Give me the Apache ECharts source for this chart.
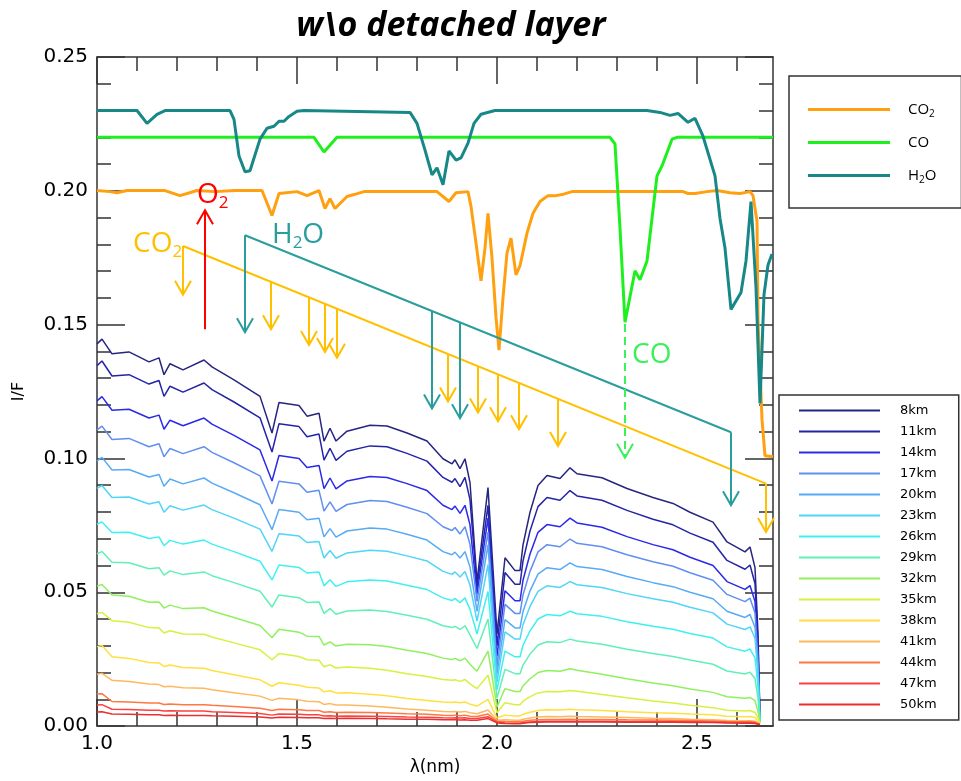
<!DOCTYPE html>
<html><head><meta charset="utf-8">
<script src="https://cdn.jsdelivr.net/npm/echarts@6/dist/echarts.min.js"></script>
<style>html,body{margin:0;padding:0;background:#fff}#c{width:961px;height:781px}</style>
</head><body><div id="c"></div><script>
// ---------- data ----------
const wavelength = [1.000,1.0125,1.0375,1.08,1.13,1.155,1.1675,1.1825,1.215,1.2675,1.2875,1.3425,1.4075,1.4375,1.455,1.505,1.525,1.555,1.5675,1.5825,1.5975,1.625,1.6825,1.725,1.775,1.825,1.865,1.8875,1.895,1.9075,1.92,1.9325,1.95,1.9775,2.0,2.02,2.045,2.0575,2.065,2.0825,2.1025,2.125,2.1575,2.1825,2.20,2.2625,2.325,2.39,2.44,2.4825,2.54,2.575,2.62,2.6325,2.645,2.6525,2.6575];
const kmNames = ['8km','11km','14km','17km','20km','23km','26km','29km','32km','35km','38km','41km','44km','47km','50km'];
const kmColors = ['#262680','#2424a8','#2a2ae8','#5f8ff0','#58aaf5','#50d4f8','#40f0f0','#60f0b8','#90f060','#d8f040','#ffe040','#ffb860','#ff7840','#ff4040','#e83030'];
const km8  = [0.1428,0.1446,0.1391,0.1398,0.1361,0.1376,0.1313,0.1354,0.1331,0.1368,0.1342,0.1294,0.1232,0.1095,0.1209,0.1198,0.1158,0.1169,0.1065,0.1113,0.1065,0.1102,0.1124,0.1121,0.1095,0.1065,0.0999,0.0980,0.0995,0.0962,0.0999,0.0910,0.0540,0.0891,0.0344,0.0629,0.0581,0.0581,0.0677,0.0799,0.0899,0.0936,0.0925,0.0965,0.0943,0.0928,0.0888,0.0854,0.0832,0.0799,0.0762,0.0688,0.0651,0.0669,0.0592,0.0344,0.0022];
const km11 = [0.1347,0.1364,0.1308,0.1313,0.1278,0.1291,0.1232,0.1270,0.1248,0.1282,0.1257,0.1211,0.1152,0.1024,0.1130,0.1119,0.1081,0.1091,0.0994,0.1038,0.0993,0.1027,0.1047,0.1044,0.1019,0.0990,0.0929,0.0911,0.0925,0.0895,0.0929,0.0846,0.0518,0.0825,0.0300,0.0574,0.0530,0.0530,0.0617,0.0729,0.0820,0.0854,0.0844,0.0880,0.0860,0.0844,0.0806,0.0773,0.0752,0.0721,0.0687,0.0619,0.0586,0.0602,0.0533,0.0310,0.0020];
const km14 = [0.1215,0.1231,0.1180,0.1184,0.1151,0.1162,0.1109,0.1143,0.1122,0.1151,0.1128,0.1086,0.1032,0.0916,0.1011,0.1000,0.0966,0.0974,0.0887,0.0927,0.0886,0.0916,0.0933,0.0929,0.0906,0.0880,0.0825,0.0809,0.0822,0.0795,0.0825,0.0752,0.0492,0.0777,0.0260,0.0506,0.0468,0.0468,0.0545,0.0643,0.0724,0.0753,0.0745,0.0777,0.0759,0.0743,0.0708,0.0678,0.0659,0.0631,0.0600,0.0540,0.0511,0.0525,0.0465,0.0270,0.0019];
const km17 = [0.1107,0.1121,0.1071,0.1075,0.1044,0.1055,0.1006,0.1037,0.1018,0.1044,0.1023,0.0984,0.0935,0.0830,0.0915,0.0905,0.0874,0.0881,0.0803,0.0838,0.0802,0.0828,0.0843,0.0839,0.0818,0.0794,0.0745,0.0731,0.0742,0.0718,0.0745,0.0679,0.0466,0.0725,0.0225,0.0455,0.0421,0.0421,0.0490,0.0578,0.0651,0.0678,0.0670,0.0699,0.0683,0.0670,0.0640,0.0614,0.0597,0.0573,0.0545,0.0492,0.0465,0.0478,0.0423,0.0246,0.0018];
const km20 = [0.0991,0.1004,0.0957,0.0959,0.0931,0.0940,0.0896,0.0923,0.0905,0.0927,0.0908,0.0872,0.0827,0.0734,0.0809,0.0799,0.0771,0.0777,0.0707,0.0738,0.0706,0.0729,0.0740,0.0736,0.0717,0.0695,0.0652,0.0640,0.0650,0.0628,0.0652,0.0594,0.0429,0.0677,0.0195,0.0398,0.0367,0.0367,0.0428,0.0505,0.0568,0.0592,0.0585,0.0610,0.0596,0.0585,0.0559,0.0536,0.0521,0.0500,0.0476,0.0429,0.0406,0.0417,0.0369,0.0215,0.0017];
const km23 = [0.0888,0.0899,0.0854,0.0856,0.0830,0.0838,0.0799,0.0823,0.0807,0.0826,0.0809,0.0777,0.0736,0.0653,0.0719,0.0710,0.0686,0.0690,0.0628,0.0656,0.0627,0.0647,0.0657,0.0653,0.0636,0.0617,0.0578,0.0567,0.0576,0.0557,0.0578,0.0527,0.0392,0.0603,0.0165,0.0352,0.0325,0.0325,0.0379,0.0447,0.0503,0.0524,0.0518,0.0540,0.0528,0.0518,0.0495,0.0476,0.0463,0.0444,0.0423,0.0381,0.0361,0.0371,0.0328,0.0191,0.0016];
const km26 = [0.0754,0.0763,0.0723,0.0724,0.0701,0.0707,0.0674,0.0694,0.0680,0.0695,0.0680,0.0652,0.0616,0.0546,0.0602,0.0593,0.0572,0.0576,0.0524,0.0547,0.0522,0.0539,0.0546,0.0542,0.0526,0.0510,0.0479,0.0469,0.0477,0.0461,0.0479,0.0436,0.0344,0.0503,0.0135,0.0280,0.0259,0.0259,0.0301,0.0356,0.0400,0.0417,0.0412,0.0429,0.0420,0.0410,0.0390,0.0373,0.0362,0.0346,0.0329,0.0296,0.0280,0.0288,0.0255,0.0148,0.0015];
const km29 = [0.0644,0.0652,0.0612,0.0610,0.0588,0.0592,0.0564,0.0580,0.0566,0.0576,0.0562,0.0536,0.0504,0.0445,0.0490,0.0480,0.0462,0.0464,0.0421,0.0439,0.0418,0.0430,0.0434,0.0428,0.0414,0.0399,0.0375,0.0368,0.0373,0.0361,0.0375,0.0341,0.0290,0.0400,0.0105,0.0212,0.0196,0.0196,0.0228,0.0269,0.0303,0.0315,0.0312,0.0325,0.0318,0.0306,0.0287,0.0271,0.0260,0.0247,0.0231,0.0206,0.0195,0.0201,0.0178,0.0103,0.0013];
const km32 = [0.0523,0.0529,0.0490,0.0485,0.0463,0.0464,0.0441,0.0452,0.0439,0.0442,0.0430,0.0406,0.0376,0.0330,0.0362,0.0351,0.0336,0.0335,0.0303,0.0315,0.0299,0.0306,0.0304,0.0297,0.0283,0.0271,0.0254,0.0249,0.0253,0.0244,0.0254,0.0231,0.0205,0.0280,0.0072,0.0140,0.0129,0.0129,0.0150,0.0177,0.0200,0.0208,0.0205,0.0214,0.0209,0.0194,0.0177,0.0161,0.0151,0.0139,0.0126,0.0110,0.0104,0.0107,0.0095,0.0055,0.0012];
const km35 = [0.0420,0.0425,0.0394,0.0388,0.0368,0.0367,0.0348,0.0356,0.0344,0.0343,0.0333,0.0311,0.0285,0.0248,0.0271,0.0260,0.0248,0.0246,0.0222,0.0229,0.0217,0.0221,0.0216,0.0209,0.0196,0.0185,0.0174,0.0171,0.0173,0.0167,0.0174,0.0158,0.0140,0.0190,0.0050,0.0087,0.0080,0.0080,0.0093,0.0110,0.0124,0.0129,0.0128,0.0133,0.0130,0.0118,0.0106,0.0094,0.0086,0.0078,0.0069,0.0059,0.0056,0.0058,0.0051,0.0030,0.0011];
const km38 = [0.0297,0.0301,0.0259,0.0253,0.0238,0.0236,0.0223,0.0228,0.0219,0.0216,0.0208,0.0192,0.0173,0.0149,0.0162,0.0153,0.0145,0.0142,0.0128,0.0132,0.0124,0.0125,0.0119,0.0113,0.0103,0.0096,0.0090,0.0088,0.0090,0.0087,0.0090,0.0082,0.0075,0.0100,0.0030,0.0041,0.0038,0.0038,0.0044,0.0052,0.0058,0.0061,0.0060,0.0063,0.0061,0.0058,0.0054,0.0050,0.0048,0.0045,0.0042,0.0037,0.0035,0.0036,0.0032,0.0019,0.0010];
const km41 = [0.0194,0.0197,0.0171,0.0167,0.0157,0.0155,0.0147,0.0149,0.0143,0.0141,0.0136,0.0125,0.0112,0.0096,0.0104,0.0098,0.0093,0.0091,0.0081,0.0084,0.0079,0.0079,0.0075,0.0070,0.0064,0.0059,0.0055,0.0054,0.0055,0.0053,0.0055,0.0050,0.0046,0.0060,0.0022,0.0024,0.0022,0.0022,0.0026,0.0030,0.0034,0.0036,0.0035,0.0037,0.0036,0.0034,0.0032,0.0029,0.0028,0.0026,0.0024,0.0021,0.0020,0.0020,0.0018,0.0012,0.0009];
const km44 = [0.0120,0.0121,0.0092,0.0090,0.0086,0.0086,0.0081,0.0083,0.0080,0.0080,0.0078,0.0073,0.0067,0.0058,0.0063,0.0061,0.0058,0.0058,0.0052,0.0054,0.0051,0.0052,0.0051,0.0049,0.0046,0.0044,0.0041,0.0040,0.0041,0.0039,0.0041,0.0037,0.0036,0.0045,0.0018,0.0017,0.0016,0.0016,0.0018,0.0022,0.0024,0.0025,0.0025,0.0026,0.0025,0.0025,0.0024,0.0023,0.0022,0.0021,0.0019,0.0017,0.0016,0.0017,0.0015,0.0010,0.0008];
const km47 = [0.0079,0.0080,0.0063,0.0062,0.0059,0.0059,0.0056,0.0057,0.0056,0.0056,0.0054,0.0051,0.0047,0.0041,0.0045,0.0044,0.0042,0.0042,0.0038,0.0039,0.0037,0.0038,0.0037,0.0036,0.0034,0.0033,0.0031,0.0030,0.0031,0.0030,0.0031,0.0028,0.0028,0.0035,0.0015,0.0012,0.0011,0.0011,0.0013,0.0015,0.0017,0.0018,0.0018,0.0018,0.0018,0.0018,0.0017,0.0017,0.0016,0.0016,0.0015,0.0014,0.0013,0.0013,0.0012,0.0008,0.0007];
const km50 = [0.0053,0.0054,0.0045,0.0044,0.0042,0.0042,0.0040,0.0041,0.0040,0.0040,0.0039,0.0037,0.0034,0.0030,0.0033,0.0032,0.0031,0.0031,0.0028,0.0029,0.0028,0.0029,0.0028,0.0027,0.0026,0.0026,0.0024,0.0024,0.0024,0.0023,0.0024,0.0022,0.0022,0.0028,0.0012,0.0010,0.0009,0.0009,0.0011,0.0013,0.0014,0.0015,0.0015,0.0015,0.0015,0.0015,0.0014,0.0014,0.0014,0.0013,0.0013,0.0012,0.0011,0.0011,0.0010,0.0007,0.0006];

const co2Wave = [1.0,1.0325,1.05,1.075,1.17,1.2075,1.25,1.295,1.345,1.4125,1.4375,1.455,1.5,1.525,1.555,1.57,1.5825,1.595,1.625,1.6425,1.6675,1.85,1.88,1.8975,1.9275,1.935,1.9475,1.96,1.97,1.9775,1.9875,1.9975,2.005,2.015,2.025,2.035,2.0475,2.0575,2.075,2.09,2.1075,2.1275,2.1475,2.1625,2.1875,2.465,2.4775,2.495,2.525,2.55,2.5825,2.6075,2.6325,2.64,2.65,2.6525,2.6625,2.67,2.69];
const co2Val  = [0.2001,0.1997,0.1993,0.2001,0.2001,0.1982,0.2001,0.1997,0.2001,0.2001,0.1908,0.1990,0.1997,0.1982,0.2001,0.1934,0.1971,0.1934,0.1979,0.1986,0.1997,0.1997,0.1960,0.1993,0.1997,0.1942,0.1805,0.1664,0.1786,0.1916,0.1749,0.1527,0.1405,0.1601,0.1768,0.1823,0.1686,0.1720,0.1842,0.1916,0.1960,0.1982,0.1982,0.1986,0.1997,0.1997,0.1990,0.1990,0.1997,0.2001,0.1993,0.1990,0.1997,0.1982,0.1886,0.1516,0.1146,0.1010,0.1006];
const coWave = [1.0,1.5425,1.5675,1.6,2.2825,2.295,2.3075,2.32,2.345,2.3575,2.375,2.4,2.4125,2.4375,2.45,2.69];
const coVal  = [0.2200,0.2200,0.2145,0.2200,0.2200,0.2175,0.1860,0.1509,0.1701,0.1668,0.1738,0.2056,0.2093,0.2193,0.2200,0.2200];
const h2oWave = [1.0,1.1,1.125,1.15,1.17,1.3325,1.3425,1.355,1.37,1.3825,1.4075,1.425,1.4425,1.455,1.4675,1.48,1.5,1.5175,1.7825,1.8,1.82,1.8375,1.85,1.865,1.88,1.8975,1.91,1.9275,1.9425,1.96,1.995,2.375,2.4075,2.4325,2.4525,2.4775,2.495,2.515,2.545,2.5575,2.57,2.585,2.61,2.6225,2.635,2.6475,2.6575,2.6675,2.6775,2.6875];
const h2oVal  = [0.2300,0.2300,0.2252,0.2286,0.2300,0.2300,0.2267,0.2130,0.2071,0.2075,0.2193,0.2234,0.2241,0.2260,0.2260,0.2278,0.2297,0.2300,0.2293,0.2252,0.2152,0.2060,0.2086,0.2023,0.2149,0.2115,0.2123,0.2178,0.2252,0.2286,0.2300,0.2300,0.2293,0.2282,0.2289,0.2256,0.2271,0.2204,0.2056,0.1897,0.1786,0.1557,0.1620,0.1738,0.1960,0.1638,0.1206,0.1612,0.1723,0.1764];

// annotations (data units)
const co2Bracket = [[1.215, 0.1794], [2.6725, 0.0906]];
const co2ArrowX   = [1.215, 1.435, 1.53, 1.57, 1.60, 1.8775, 1.9525, 2.0025, 2.055, 2.1525, 2.6725];
const co2ArrowTip = [0.1612, 0.1483, 0.1424, 0.1398, 0.1376, 0.1213, 0.1172, 0.1139, 0.1109, 0.1047, 0.0725];
const h2oBracket = [[1.37, 0.1834], [2.585, 0.1098]];
const h2oArrowX   = [1.37, 1.8375, 1.9075, 2.585];
const h2oArrowTip = [0.1472, 0.1187, 0.1150, 0.0825];
const o2Arrow = [[1.27, 0.1483, 0.1927]];
const coArrow = [[2.32, 0.1502, 0.1003]];
const annotLabels = [
  {main:'CO', sub:'2', after:'', x:1.09, y:0.1801, color:'#ffc000'},
  {main:'H', sub:'2', after:'O', x:1.4375, y:0.1835, color:'#2a9d9d'},
  {main:'O', sub:'2', after:'', x:1.25, y:0.1985, color:'#ff0000'},
  {main:'CO', sub:'', after:'', x:2.3375, y:0.1385, color:'#3cf05a'}
];
const xMajorTicks = [1.0, 1.5, 2.0, 2.5];
const xMinorTicks = [1.1,1.2,1.3,1.4,1.6,1.7,1.8,1.9,2.1,2.2,2.3,2.4,2.6];

// ---------- build ----------
const kmData = [km8,km11,km14,km17,km20,km23,km26,km29,km32,km35,km38,km41,km44,km47,km50];
const zip = (xs, ys) => xs.map((x, i) => [x, ys[i]]);
const lineAt = (br, x) => br[0][1] + (br[1][1] - br[0][1]) * (x - br[0][0]) / (br[1][0] - br[0][0]);

function arrowSeries(name, color, rows, dashed) {
  return {
    type: 'custom', name, silent: true, z: 5,
    data: rows, encode: {x: 0, y: [1, 2]},
    renderItem: (params, api) => {
      const x = api.value(0), y0 = api.value(1), y1 = api.value(2);
      const p0 = api.coord([x, y0]), p1 = api.coord([x, y1]);
      const dir = p1[1] > p0[1] ? 1 : -1;
      const hw = 8, hl = 14;
      return {type: 'group', children: [
        {type: 'polyline', shape: {points: [p0, p1]}, style: {stroke: color, lineWidth: 2, fill: null, lineDash: dashed ? [8, 5] : null}},
        {type: 'polyline', shape: {points: [[p1[0] - hw, p1[1] - dir * hl], [p1[0], p1[1]], [p1[0] + hw, p1[1] - dir * hl]]}, style: {stroke: color, lineWidth: 2, fill: null}}
      ]};
    }
  };
}

const series = [];
kmData.forEach((vals, i) => {
  series.push({type: 'line', name: kmNames[i], data: zip(wavelength, vals), symbol: 'none', showSymbol: false,
    lineStyle: {width: 1.5, color: kmColors[i]}, itemStyle: {color: kmColors[i]}, z: 2});
});
series.push({type: 'line', name: 'CO2', data: zip(co2Wave, co2Val), symbol: 'none', lineStyle: {width: 3, color: '#ffa010'}, itemStyle: {color: '#ffa010'}, z: 3});
series.push({type: 'line', name: 'CO', data: zip(coWave, coVal), symbol: 'none', lineStyle: {width: 3, color: '#1ef01e'}, itemStyle: {color: '#1ef01e'}, z: 3});
series.push({type: 'line', name: 'H2O', data: zip(h2oWave, h2oVal), symbol: 'none', lineStyle: {width: 3, color: '#178787'}, itemStyle: {color: '#178787'}, z: 3});
series.push({type: 'line', name: 'co2Bracket', data: co2Bracket, symbol: 'none', silent: true, lineStyle: {width: 2, color: '#ffc000'}, z: 4});
series.push({type: 'line', name: 'h2oBracket', data: h2oBracket, symbol: 'none', silent: true, lineStyle: {width: 2, color: '#2a9d9d'}, z: 4});
series.push(arrowSeries('co2Arrows', '#ffc000', co2ArrowX.map((x, i) => [x, lineAt(co2Bracket, x), co2ArrowTip[i]]), false));
series.push(arrowSeries('h2oArrows', '#2a9d9d', h2oArrowX.map((x, i) => [x, lineAt(h2oBracket, x), h2oArrowTip[i]]), false));
series.push(arrowSeries('o2Arrow', '#ff0000', o2Arrow, false));
series.push(arrowSeries('coArrow', '#3cf05a', coArrow, true));
series.push({
  type: 'custom', name: 'labels', silent: true, z: 6,
  data: annotLabels.map(l => [l.x, l.y]), encode: {x: 0, y: 1},
  renderItem: (params, api) => {
    const l = annotLabels[params.dataIndex];
    const p = api.coord([api.value(0), api.value(1)]);
    let t = '{m|' + l.main + '}';
    if (l.sub) t += '{s|' + l.sub + '}';
    if (l.after) t += '{m|' + l.after + '}';
    return {type: 'text', x: p[0], y: p[1], style: {
      text: t, align: 'left', verticalAlign: 'middle',
      rich: {
        m: {fontSize: 28, fontFamily: 'Open Sans', fill: l.color},
        s: {fontSize: 17, fontFamily: 'Open Sans', fill: l.color, padding: [16, 0, 0, 0]}
      }
    }};
  }
});

const axisCol = '#333';
const tickStyle = {color: axisCol, width: 1.5};
const tickFont = {fontFamily: 'DejaVu Sans', fontSize: 20, color: '#000'};

const option = {
  animation: false,
  backgroundColor: '#ffffff',
  title: {text: 'w\\o detached layer', left: 446, top: 4, textAlign: 'center',
    textStyle: {fontFamily: 'Open Sans', fontSize: 34, fontWeight: 'bold', fontStyle: 'italic', color: '#000'}},
  grid: {left: 97, top: 57, width: 676, height: 676},
  legend: [
    {data: ['CO2', 'CO', 'H2O'], orient: 'vertical', left: 789, top: 76, selectedMode: false,
      icon: 'rect', itemWidth: 82, itemHeight: 3, itemGap: 0, padding: [17, 25, 16, 19],
      borderColor: '#333', borderWidth: 1.5,
      formatter: n => n === 'CO2' ? '{a|CO}{b|2}' : n === 'H2O' ? '{a|H}{b|2}{a|O}' : '{a|CO}',
      textStyle: {padding: [0, 0, 0, 13], lineHeight: 33, rich: {
        a: {fontSize: 15, fontFamily: 'Open Sans', color: '#000', lineHeight: 33},
        b: {fontSize: 10, fontFamily: 'Open Sans', color: '#000', padding: [9, 0, 0, 0]}}}},
    {data: kmNames, orient: 'vertical', left: 779, top: 395, selectedMode: false,
      icon: 'rect', itemWidth: 81, itemHeight: 2, itemGap: 0, padding: [5, 22, 5, 20],
      borderColor: '#333', borderWidth: 1.5,
      textStyle: {fontFamily: 'DejaVu Sans', fontSize: 13, color: '#000', lineHeight: 21, padding: [0, 0, 0, 15]}}
  ],
  xAxis: [
    {type: 'value', min: 1.0, max: 2.69, position: 'bottom',
      name: 'λ(nm)', nameLocation: 'middle', nameGap: 24,
      nameTextStyle: {fontFamily: 'DejaVu Sans', fontSize: 17, color: '#000'},
      axisLine: {show: true, lineStyle: tickStyle},
      axisTick: {show: true, inside: true, length: 27, customValues: xMajorTicks, lineStyle: tickStyle},
      axisLabel: Object.assign({customValues: xMajorTicks, formatter: v => v.toFixed(1), margin: 8}, tickFont),
      splitLine: {show: false}},
    {type: 'value', min: 1.0, max: 2.69, position: 'bottom',
      axisLine: {show: false},
      axisTick: {show: true, inside: true, length: 14, customValues: xMinorTicks, lineStyle: tickStyle},
      axisLabel: {show: false}, splitLine: {show: false}},
    {type: 'value', min: 1.0, max: 2.69, position: 'top',
      axisLine: {show: true, lineStyle: tickStyle},
      axisTick: {show: true, inside: true, length: 27, customValues: xMajorTicks, lineStyle: tickStyle},
      axisLabel: {show: false}, splitLine: {show: false}},
    {type: 'value', min: 1.0, max: 2.69, position: 'top',
      axisLine: {show: false},
      axisTick: {show: true, inside: true, length: 14, customValues: xMinorTicks, lineStyle: tickStyle},
      axisLabel: {show: false}, splitLine: {show: false}}
  ],
  yAxis: [
    {type: 'value', min: 0, max: 0.25, interval: 0.05, position: 'left',
      name: 'I/F', nameLocation: 'middle', nameGap: 70,
      nameTextStyle: {fontFamily: 'DejaVu Sans', fontSize: 16, color: '#000'},
      axisLine: {show: true, lineStyle: tickStyle},
      axisTick: {show: true, inside: true, length: 28, lineStyle: tickStyle},
      minorTick: {show: true, splitNumber: 5, length: 14, lineStyle: tickStyle},
      axisLabel: Object.assign({formatter: v => v.toFixed(2), margin: 9}, tickFont),
      splitLine: {show: false}, minorSplitLine: {show: false}},
    {type: 'value', min: 0, max: 0.25, interval: 0.05, position: 'right',
      axisLine: {show: true, lineStyle: tickStyle},
      axisTick: {show: true, inside: true, length: 28, lineStyle: tickStyle},
      minorTick: {show: true, splitNumber: 5, length: 14, lineStyle: tickStyle},
      axisLabel: {show: false}, splitLine: {show: false}, minorSplitLine: {show: false}}
  ],
  series: series
};

const chart = echarts.init(document.getElementById('c'), null, {renderer: 'canvas'});
chart.setOption(option);
</script></body></html>
